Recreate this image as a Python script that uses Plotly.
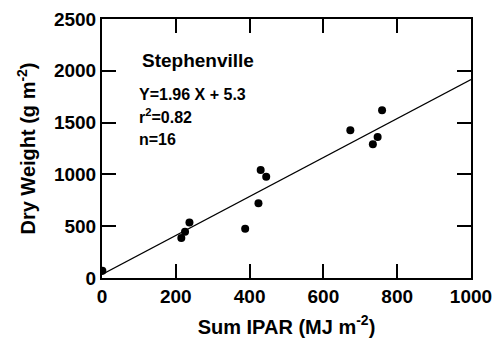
import plotly.graph_objects as go

# Data
ipar = [1, 215, 225, 237, 388, 424, 430, 445, 673, 734, 747, 759]
dry_weight = [69, 386, 447, 536, 475, 722, 1042, 978, 1427, 1292, 1362, 1619]

# Fitted line as drawn
line_x = [0, 1000]
line_slope = 1.88
line_intercept = 35
line_y = [line_slope * x + line_intercept for x in line_x]

x_ticks = [0, 200, 400, 600, 800, 1000]
y_ticks = [0, 500, 1000, 1500, 2000, 2500]

site = "Stephenville"
eq_text = "Y=1.96 X + 5.3"
r2_text = "r<sup>2</sup>=0.82"
n_text = "n=16"

FONT = "Liberation Sans, Arial, sans-serif"

fig = go.Figure()
fig.add_trace(go.Scatter(x=line_x, y=line_y, mode="lines",
                         line=dict(color="black", width=1.2), showlegend=False))
fig.add_trace(go.Scatter(x=ipar, y=dry_weight, mode="markers",
                         marker=dict(color="black", size=8), showlegend=False))

axis_common = dict(
    showline=True, linecolor="black", linewidth=2, mirror="allticks",
    ticks="inside", ticklen=14, tickwidth=1.5, tickcolor="black",
    showgrid=False, zeroline=False, automargin=False,
    tickfont=dict(family=FONT, size=19, color="black"),
)

fig.update_xaxes(range=[0, 1000], tickvals=x_ticks,
                 ticktext=["<b>%d</b>" % v for v in x_ticks],
                 title=dict(text="<b>Sum IPAR (MJ m<sup>-2</sup>)</b>",
                            font=dict(family=FONT, size=20, color="black"), standoff=14),
                 **axis_common)
fig.update_yaxes(range=[0, 2500], tickvals=y_ticks,
                 ticktext=["<b>%d</b>" % v for v in y_ticks],
                 title=dict(text="<b>Dry Weight (g m<sup>-2</sup>)</b>",
                            font=dict(family=FONT, size=20, color="black"), standoff=13),
                 **axis_common)

fig.add_annotation(x=0.102, y=0.838, xref="paper", yref="paper", xanchor="left", yanchor="middle",
                   text="<b>" + site + "</b>", showarrow=False,
                   font=dict(family=FONT, size=19, color="black"))
fig.add_annotation(x=0.095, y=0.707, xref="paper", yref="paper", xanchor="left", yanchor="middle",
                   text="<b>" + eq_text + "</b>", showarrow=False,
                   font=dict(family=FONT, size=16, color="black"))
fig.add_annotation(x=0.095, y=0.625, xref="paper", yref="paper", xanchor="left", yanchor="middle",
                   text="<b>" + r2_text + "</b>", showarrow=False,
                   font=dict(family=FONT, size=16, color="black"))
fig.add_annotation(x=0.095, y=0.533, xref="paper", yref="paper", xanchor="left", yanchor="middle",
                   text="<b>" + n_text + "</b>", showarrow=False,
                   font=dict(family=FONT, size=16, color="black"))

# page body has an 8px margin; size the figure so the plot lands where the reference has it
fig.update_layout(
    width=493, height=330,
    margin=dict(l=94, r=30, t=11, b=60),
    plot_bgcolor="white", paper_bgcolor="white",
    font=dict(family=FONT, color="black"),
)

fig.write_html("out.html")
